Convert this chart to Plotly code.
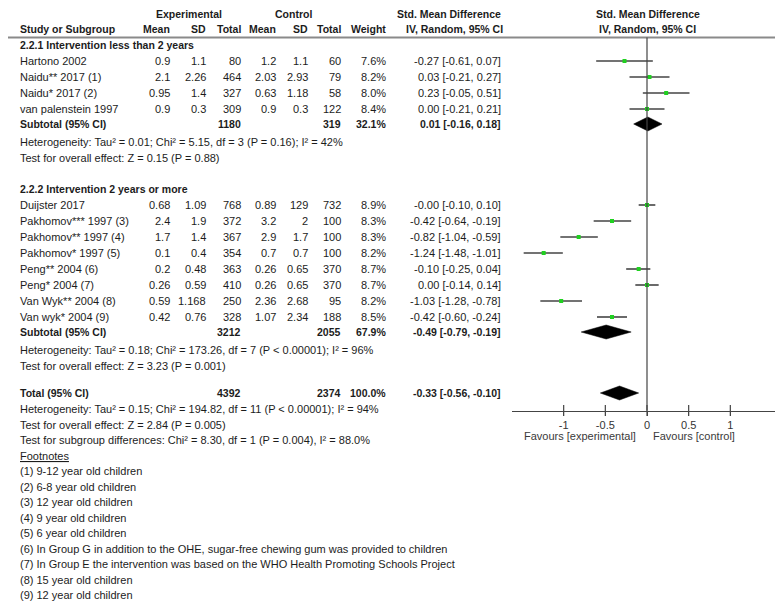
import plotly.graph_objects as go

# ---------------- data ----------------
studies1 = ["Hartono 2002", "Naidu** 2017 (1)", "Naidu* 2017 (2)", "van palenstein 1997"]
exp_mean1 = ["0.9", "2.1", "0.95", "0.9"]
exp_sd1 = ["1.1", "2.26", "1.4", "0.3"]
exp_n1 = [80, 464, 327, 309]
ctl_mean1 = ["1.2", "2.03", "0.63", "0.9"]
ctl_sd1 = ["1.1", "2.93", "1.18", "0.3"]
ctl_n1 = [60, 79, 58, 122]
weight1 = [7.6, 8.2, 8.0, 8.4]
smd1 = [-0.27, 0.03, 0.23, 0.00]
lo1 = [-0.61, -0.21, -0.05, -0.21]
hi1 = [0.07, 0.27, 0.51, 0.21]

studies2 = ["Duijster 2017", "Pakhomov*** 1997 (3)", "Pakhomov** 1997 (4)", "Pakhomov* 1997 (5)",
            "Peng** 2004 (6)", "Peng* 2004 (7)", "Van Wyk** 2004 (8)", "Van wyk* 2004 (9)"]
exp_mean2 = ["0.68", "2.4", "1.7", "0.1", "0.2", "0.26", "0.59", "0.42"]
exp_sd2 = ["1.09", "1.9", "1.4", "0.4", "0.48", "0.59", "1.168", "0.76"]
exp_n2 = [768, 372, 367, 354, 363, 410, 250, 328]
ctl_mean2 = ["0.89", "3.2", "2.9", "0.7", "0.26", "0.26", "2.36", "1.07"]
ctl_sd2 = ["129", "2", "1.7", "0.7", "0.65", "0.65", "2.68", "2.34"]
ctl_n2 = [732, 100, 100, 100, 370, 370, 95, 188]
weight2 = [8.9, 8.3, 8.3, 8.2, 8.7, 8.7, 8.2, 8.5]
smd2 = [-0.0, -0.42, -0.82, -1.24, -0.10, 0.00, -1.03, -0.42]
lo2 = [-0.10, -0.64, -1.04, -1.48, -0.25, -0.14, -1.28, -0.60]
hi2 = [0.10, -0.19, -0.59, -1.01, 0.04, 0.14, -0.78, -0.24]

sub1 = {"smd": 0.01, "lo": -0.16, "hi": 0.18, "n_exp": 1180, "n_ctl": 319, "weight": 32.1}
sub2 = {"smd": -0.49, "lo": -0.79, "hi": -0.19, "n_exp": 3212, "n_ctl": 2055, "weight": 67.9}
total = {"smd": -0.33, "lo": -0.56, "hi": -0.10, "n_exp": 4392, "n_ctl": 2374, "weight": 100.0}

group_titles = ["2.2.1 Intervention less than 2 years", "2.2.2 Intervention 2 years or more"]
stats1 = ["Heterogeneity: Tau\u00b2 = 0.01; Chi\u00b2 = 5.15, df = 3 (P = 0.16); I\u00b2 = 42%",
          "Test for overall effect: Z = 0.15 (P = 0.88)"]
stats2 = ["Heterogeneity: Tau\u00b2 = 0.18; Chi\u00b2 = 173.26, df = 7 (P < 0.00001); I\u00b2 = 96%",
          "Test for overall effect: Z = 3.23 (P = 0.001)"]
stats_total = ["Heterogeneity: Tau\u00b2 = 0.15; Chi\u00b2 = 194.82, df = 11 (P < 0.00001); I\u00b2 = 94%",
               "Test for overall effect: Z = 2.84 (P = 0.005)",
               "Test for subgroup differences: Chi\u00b2 = 8.30, df = 1 (P = 0.004), I\u00b2 = 88.0%"]
footnotes = ["(1) 9-12 year old children", "(2) 6-8 year old children", "(3) 12 year old children",
             "(4) 9 year old children", "(5) 6 year old children",
             "(6) In Group G in addition to the OHE, sugar-free chewing gum was provided to children",
             "(7) In Group E the intervention was based on the WHO Health Promoting Schools Project",
             "(8) 15 year old children", "(9) 12 year old children"]
tick_vals = [-1, -0.5, 0, 0.5, 1]
tick_text = ["-1", "-0.5", "0", "0.5", "1"]
favours = ["Favours [experimental]", "Favours [control]"]

# ---------------- layout constants (pixels) ----------------
W, H = 783, 604
FONT = "Liberation Sans, Arial, sans-serif"
TXT = "#1c1c1c"
FS, FSB = 11, 10.5
COLS = [164, 200, 235, 270, 302, 335, 380, 495]   # right edges of table columns
X_LEFT = 10
PITCH = 16
Y_HDR1, Y_HDR2, Y_RULE = 6, 21, 29.5
Y_G1 = 37
Y_G2 = 181
Y_TOTAL = 385
Y_AXIS = 402.5
DIAMOND_H = 7
LINE = 15.5

ann = []


def t(x, y, s, anchor="left", bold=False, size=None, color=TXT):
    ann.append(dict(x=x / W, y=y, xref="paper", yref="y",
                    text=f"<b>{s}</b>" if bold else s, showarrow=False,
                    xanchor=anchor, yanchor="middle",
                    font=dict(family=FONT, size=size or (FSB if bold else FS), color=color)))


def ci_txt(m, lo, hi):
    return f"{m:.2f} [{lo:.2f}, {hi:.2f}]"


# headers
t(181, Y_HDR1, "Experimental", "center", True)
t(285, Y_HDR1, "Control", "center", True)
t(441, Y_HDR1, "Std. Mean Difference", "center", True)
t(639.5, Y_HDR1, "Std. Mean Difference", "center", True)
t(X_LEFT, Y_HDR2, "Study or Subgroup", "left", True)
for lab, cx in zip(["Mean", "SD", "Total", "Mean", "SD", "Total", "Weight"], COLS[:7]):
    t(cx, Y_HDR2, lab, "right", True)
t(446, Y_HDR2, "IV, Random, 95% CI", "center", True)
t(639.5, Y_HDR2, "IV, Random, 95% CI", "center", True)

fig = go.Figure()


def diamond(s, y):
    fig.add_trace(go.Scatter(
        x=[s["lo"], s["smd"], s["hi"], s["smd"], s["lo"]],
        y=[y, y - DIAMOND_H, y, y + DIAMOND_H, y],
        mode="lines", fill="toself", fillcolor="black",
        line=dict(color="black", width=0.5), hoverinfo="skip"))


def study_block(y0, title, studies, em, esd, en, cm, csd, cn, wt, smd, lo, hi, sub, stats):
    t(X_LEFT, y0, title, "left", True)
    ys = []
    for i in range(len(studies)):
        y = y0 + PITCH * (i + 1)
        ys.append(y)
        t(X_LEFT, y, studies[i])
        vals = [em[i], esd[i], str(en[i]), cm[i], csd[i], str(cn[i]), f"{wt[i]:.1f}%",
                ci_txt(smd[i], lo[i], hi[i])]
        for v, cx in zip(vals, COLS):
            t(cx, y, v, "right")
    ysub = ys[-1] + PITCH - 1
    t(X_LEFT, ysub, "Subtotal (95% CI)", "left", True)
    t(COLS[2], ysub, str(sub["n_exp"]), "right", True)
    t(COLS[5], ysub, str(sub["n_ctl"]), "right", True)
    t(COLS[6], ysub, f"{sub['weight']:.1f}%", "right", True)
    t(COLS[7], ysub, ci_txt(sub["smd"], sub["lo"], sub["hi"]), "right", True)
    for k, s in enumerate(stats):
        t(X_LEFT, ysub + 18 + LINE * k, s)
    fig.add_trace(go.Scatter(
        x=smd, y=ys, mode="markers",
        marker=dict(symbol="square", size=4, color="#20d020"),
        error_x=dict(type="data", symmetric=False,
                     array=[h - m for h, m in zip(hi, smd)],
                     arrayminus=[m - l for m, l in zip(smd, lo)],
                     width=0, thickness=1.6, color="#454545"),
        hoverinfo="skip"))
    diamond(sub, ysub)
    return ysub


study_block(Y_G1, group_titles[0], studies1, exp_mean1, exp_sd1, exp_n1, ctl_mean1, ctl_sd1,
            ctl_n1, weight1, smd1, lo1, hi1, sub1, stats1)
study_block(Y_G2, group_titles[1], studies2, exp_mean2, exp_sd2, exp_n2, ctl_mean2, ctl_sd2,
            ctl_n2, weight2, smd2, lo2, hi2, sub2, stats2)

# total
t(X_LEFT, Y_TOTAL, "Total (95% CI)", "left", True)
t(COLS[2], Y_TOTAL, str(total["n_exp"]), "right", True)
t(COLS[5], Y_TOTAL, str(total["n_ctl"]), "right", True)
t(COLS[6], Y_TOTAL, f"{total['weight']:.1f}%", "right", True)
t(COLS[7], Y_TOTAL, ci_txt(total["smd"], total["lo"], total["hi"]), "right", True)
diamond(total, Y_TOTAL)
for k, s in enumerate(stats_total):
    t(X_LEFT, Y_TOTAL + 16 + LINE * k, s)

y_fn = Y_TOTAL + 16 + LINE * 3
t(X_LEFT, y_fn, "<u>Footnotes</u>")
for k, s in enumerate(footnotes):
    t(X_LEFT, y_fn + LINE * (k + 1), s)

# favours labels
t(630, 428, favours[0], "right", color="#3a3a3a")
t(643, 428, favours[1], "left", color="#3a3a3a")

# tick crossings
fig.add_trace(go.Scatter(x=tick_vals, y=[Y_AXIS] * len(tick_vals), mode="markers",
                         marker=dict(symbol="line-ns", size=8,
                                     line=dict(color="#444", width=1.2)),
                         hoverinfo="skip"))

shapes = [
    dict(type="line", xref="paper", yref="y", x0=0, x1=778 / W, y0=Y_RULE, y1=Y_RULE,
         line=dict(color="#8a8a8a", width=2)),
    dict(type="line", xref="x", yref="y", x0=0, x1=0, y0=Y_RULE, y1=Y_AXIS,
         line=dict(color="#444", width=1.2)),
]

fig.update_layout(
    width=W, height=H, margin=dict(l=0, r=0, t=0, b=0),
    paper_bgcolor="white", plot_bgcolor="rgba(0,0,0,0)", showlegend=False,
    annotations=ann, shapes=shapes,
    xaxis=dict(domain=[504 / W, 774 / W], range=[-1.62, 1.62], anchor="free",
               position=1 - Y_AXIS / H, showline=True, linecolor="#444", linewidth=1.2,
               tickvals=tick_vals, ticktext=tick_text, ticks="outside", ticklen=4,
               tickcolor="#444", tickwidth=1.2, showgrid=False, zeroline=False,
               tickfont=dict(family=FONT, size=11, color="#333"), fixedrange=True),
    yaxis=dict(domain=[0, 1], range=[H, 0], visible=False, fixedrange=True),
)

fig.write_html("out.html")
